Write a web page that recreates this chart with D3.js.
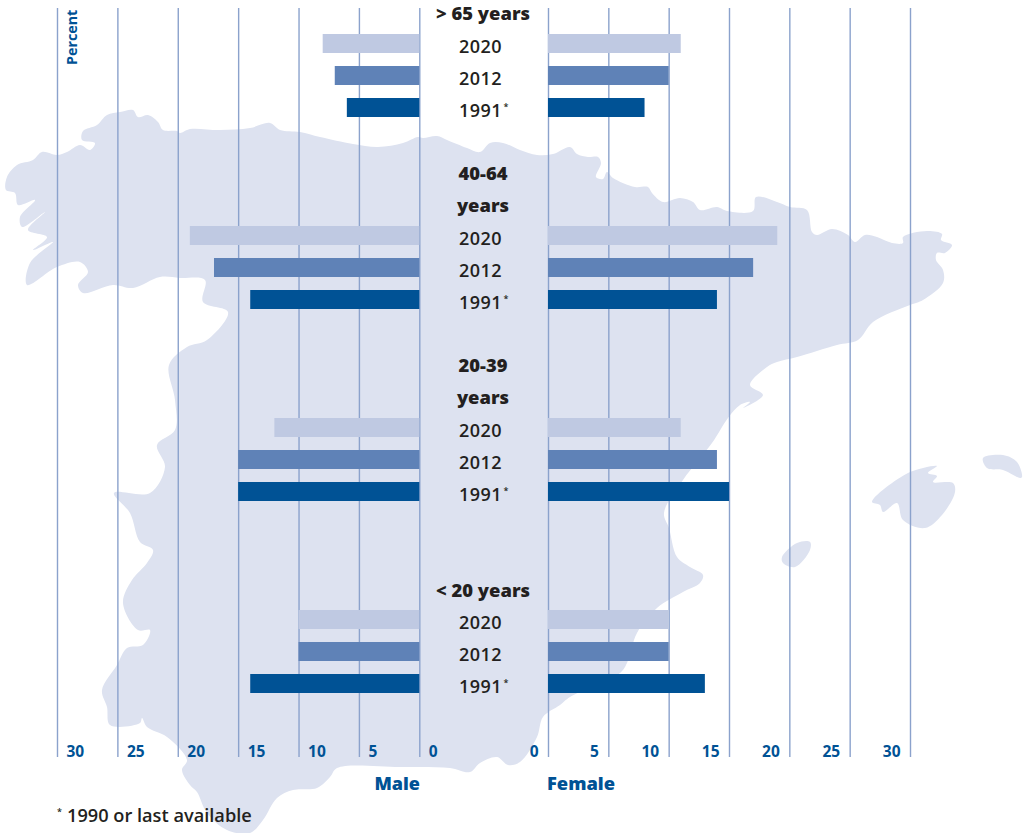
<!DOCTYPE html>
<html>
<head>
<meta charset="utf-8">
<script src="https://cdn.jsdelivr.net/npm/d3@7"></script>
<style>
body { margin: 0; background: #fff; }
svg { display: block; font-family: "Open Sans", sans-serif; }
</style>
</head>
<body>
<script>
// chart data
var ageGroups = ["> 65 years", "40-64 years", "20-39 years", "< 20 years"];
var years = ["2020", "2012", "1991"];
var male2020 = [8, 19, 12, 10];
var male2012 = [7, 17, 15, 10];
var male1991 = [6, 14, 15, 14];
var female2020 = [11, 19, 11, 10];
var female2012 = [10, 17, 14, 10];
var female1991 = [8, 14, 15, 13];
var tickValues = [0, 5, 10, 15, 20, 25, 30];

// background map outline
var mainland = [[6,190],[7,177],[17,165],[33,160],[42,152],[57,155],[67,152],[80,145],[90,150],[95,143],[82,140],[83,131],[97,125],[107,115],[120,112],[133,110],[138,117],[148,115],[158,122],[163,130],[177,131],[180,133],[190,129],[220,130],[250,128],[270,123],[280,130],[300,132],[320,137],[353,144],[378,147],[403,143],[418,137],[423,138],[437,136],[447,140],[467,148],[480,152],[490,143],[503,143],[520,150],[537,155],[553,154],[570,147],[577,154],[588,157],[598,157],[601,163],[596,177],[603,179],[607,172],[613,178],[635,187],[648,187],[652,193],[663,202],[680,198],[693,202],[700,210],[717,207],[727,211],[753,211],[756,197],[777,202],[790,207],[807,210],[812,232],[817,235],[832,229],[848,235],[855,242],[865,235],[877,237],[892,243],[903,243],[903,237],[927,231],[942,234],[941,240],[952,245],[945,253],[937,253],[936,260],[943,270],[943,283],[923,300],[910,305],[873,322],[858,340],[837,345],[797,357],[777,362],[767,367],[750,385],[763,395],[743,408],[750,402],[740,405],[728,418],[712,443],[683,480],[664,513],[669,528],[677,557],[690,567],[703,575],[700,583],[683,592],[657,608],[637,633],[627,663],[620,673],[570,697],[560,705],[543,717],[537,737],[520,762],[508,765],[497,757],[480,763],[470,772],[450,768],[400,767],[337,768],[330,777],[317,788],[293,790],[277,798],[263,820],[250,833],[227,830],[207,813],[197,792],[190,785],[182,770],[187,760],[167,737],[147,727],[142,718],[140,723],[110,725],[107,707],[102,690],[117,665],[127,648],[143,645],[150,630],[138,630],[123,603],[132,580],[147,563],[153,550],[140,542],[130,513],[114,493],[150,493],[165,467],[157,445],[175,430],[175,400],[169,365],[187,347],[207,340],[228,312],[203,302],[205,280],[180,278],[160,277],[133,288],[113,285],[83,293],[78,285],[88,272],[80,262],[57,267],[27,285],[30,263],[53,242],[33,250],[47,237],[28,230],[45,212],[22,227],[20,217],[35,200],[18,205],[15,193]];
var mallorca = [[872,502],[908,473],[937,466],[928,473],[937,476],[933,482],[953,483],[955,492],[942,515],[925,528],[903,520],[897,503],[883,512],[880,505]];
var menorca = [[983,458],[1003,455],[1017,462],[1022,477],[1020,478],[1003,470],[987,468]];
var ibiza = [[782,557],[797,543],[810,542],[810,550],[795,567],[783,563]];

var maleSeries = [male2020, male2012, male1991];
var femaleSeries = [female2020, female2012, female1991];
var barColors = ["#bfc9e2", "#5f82b7", "#005295"];
var blue = "#005295", dark = "#231f20";

var svg = d3.select("body").append("svg")
	.attr("width", 1029)
	.attr("height", 833);

// map goes first, everything sits on top of it
var mapLine = d3.line().curve(d3.curveCatmullRomClosed.alpha(0.5));
svg.selectAll(".land")
	.data([mainland, mallorca, menorca, ibiza])
	.enter().append("path")
	.attr("class", "land")
	.attr("d", mapLine)
	.attr("fill", "#dde2f0");

// scales
var xMale = d3.scaleLinear().domain([0, 30]).range([419.3, 57]);
var xFemale = d3.scaleLinear().domain([0, 30]).range([548, 910]);
var yGroup = d3.scaleBand().domain(ageGroups).range([34, 802]);
var yYear = d3.scaleBand().domain(years).range([0, 83]).paddingInner(0.40625);

// axes, the long ticks are the vertical lines
function drawAxis(scale, labelX, anchor) {
	var g = svg.append("g")
		.attr("transform", "translate(0,8)")
		.call(d3.axisBottom(scale).tickValues(tickValues).tickSize(749).tickSizeOuter(0));
	g.select(".domain").remove();
	g.selectAll(".tick line")
		.attr("stroke", "#8ba2cc")
		.attr("stroke-width", 1.4);
	g.selectAll(".tick text")
		.attr("x", labelX)
		.attr("y", 744)
		.attr("dy", "0.32em")
		.attr("text-anchor", anchor)
		.attr("fill", blue)
		.style("font-family", '"Open Sans", sans-serif')
		.style("font-size", "15.5px")
		.style("font-weight", 700);
}
drawAxis(xMale, 9, "start");
drawAxis(xFemale, -10, "end");

// bars
years.forEach(function(year, j) {
	svg.selectAll(".male" + year)
		.data(maleSeries[j])
		.enter().append("rect")
		.attr("x", function(d) { return xMale(d); })
		.attr("y", function(d, i) { return yGroup(ageGroups[i]) + yYear(year); })
		.attr("width", function(d) { return xMale(0) - xMale(d); })
		.attr("height", yYear.bandwidth())
		.attr("fill", barColors[j]);
	svg.selectAll(".female" + year)
		.data(femaleSeries[j])
		.enter().append("rect")
		.attr("x", xFemale(0))
		.attr("y", function(d, i) { return yGroup(ageGroups[i]) + yYear(year); })
		.attr("width", function(d) { return xFemale(d) - xFemale(0); })
		.attr("height", yYear.bandwidth())
		.attr("fill", barColors[j]);
});

// year labels
ageGroups.forEach(function(group) {
	years.forEach(function(year) {
		svg.append("text")
			.attr("x", 480.5)
			.attr("y", yGroup(group) + yYear(year) + 19)
			.attr("text-anchor", "middle")
			.attr("fill", dark)
			.style("font-size", "18px")
			.style("font-weight", 600)
			.style("letter-spacing", "0.4px")
			.text(year);
		if (year == "1991") {
			svg.append("text")
				.attr("x", 503.5)
				.attr("y", yGroup(group) + yYear(year) + 12)
				.attr("fill", dark)
				.style("font-size", "9px")
				.style("font-weight", 600)
				.text("*");
		}
	});
});

// age headings, the middle two break on two lines
function heading(txt, y) {
	svg.append("text")
		.attr("x", 483)
		.attr("y", y)
		.attr("text-anchor", "middle")
		.attr("fill", dark)
		.style("font-size", "18.4px")
		.style("font-weight", 800)
		.text(txt);
}
heading(ageGroups[0], 20);
heading(ageGroups[1].split(" ")[0], 180);
heading(ageGroups[1].split(" ")[1], 212);
heading(ageGroups[2].split(" ")[0], 372);
heading(ageGroups[2].split(" ")[1], 404);
heading(ageGroups[3], 597);

// other labels
svg.append("text")
	.attr("transform", "translate(77,65) rotate(-90)")
	.attr("fill", blue)
	.style("font-size", "14.3px")
	.style("font-weight", 700)
	.text("Percent");

svg.append("text")
	.attr("x", 420).attr("y", 790)
	.attr("text-anchor", "end")
	.attr("fill", blue)
	.style("font-size", "18px")
	.style("font-weight", 800)
	.text("Male");

svg.append("text")
	.attr("x", 547).attr("y", 790)
	.attr("fill", blue)
	.style("font-size", "18.3px")
	.style("font-weight", 800)
	.text("Female");

svg.append("text")
	.attr("x", 57).attr("y", 815)
	.attr("fill", dark)
	.style("font-size", "9px")
	.style("font-weight", 600)
	.text("*");

svg.append("text")
	.attr("x", 67).attr("y", 822)
	.attr("fill", dark)
	.style("font-size", "18.2px")
	.style("font-weight", 600)
	.text("1990 or last available");
</script>
</body>
</html>
